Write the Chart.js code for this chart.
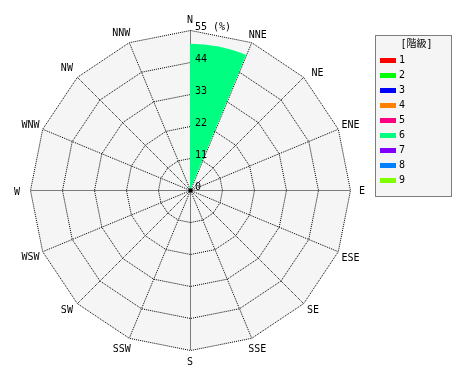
<!DOCTYPE html>
<html>
<head>
<meta charset="utf-8">
<script src="https://cdn.jsdelivr.net/npm/chart.js@4"></script>
<style>
  html, body { margin: 0; padding: 0; background: #fff; }
  #wrap { width: 470px; height: 380px; }
</style>
</head>
<body>
<div id="wrap"><canvas id="rose" width="470" height="380"></canvas></div>
<script>
// wind directions (clockwise from north)
const directions = ['N', 'NNE', 'NE', 'ENE', 'E', 'ESE', 'SE', 'SSE',
                    'S', 'SSW', 'SW', 'WSW', 'W', 'WNW', 'NW', 'NNW'];

// frequency (%) per class and direction
const freq1 = [0, 0, 0, 0, 0, 0, 0, 0, 0, 0, 0, 0, 0, 0, 0, 0];
const freq2 = [0, 0, 0, 0, 0, 0, 0, 0, 0, 0, 0, 0, 0, 0, 0, 0];
const freq3 = [0, 0, 0, 0, 0, 0, 0, 0, 0, 0, 0, 0, 0, 0, 0, 0];
const freq4 = [0, 0, 0, 0, 0, 0, 0, 0, 0, 0, 0, 0, 0, 0, 0, 0];
const freq5 = [0, 0, 0, 0, 0, 0, 0, 0, 0, 0, 0, 0, 0, 0, 0, 0];
const freq6 = [50.3, 0, 0, 0, 0, 0, 0, 0, 0, 0, 0, 0, 0, 0, 0, 0];
const freq7 = [0, 0, 0, 0, 0, 0, 0, 0, 0, 0, 0, 0, 0, 0, 0, 0];
const freq8 = [0, 0, 0, 0, 0, 0, 0, 0, 0, 0, 0, 0, 0, 0, 0, 0];
const freq9 = [0, 0, 0, 0, 0, 0, 0, 0, 0, 0, 0, 0, 0, 0, 0, 0];

const classNames = ['1', '2', '3', '4', '5', '6', '7', '8', '9'];
const classColors = ['#ff0000', '#00ff00', '#0000ff', '#ff8000', '#ff0080',
                     '#00ff80', '#8000ff', '#0080ff', '#80ff00'];

const tickValues = [0, 11, 22, 33, 44, 55];
const unitLabel = '(%)';
const legendTitle = '[階級]';

const FONT = '10px "DejaVu Sans Mono", "Noto Sans CJK JP", monospace';

// small nudges for the direction names, same order as directions
const labelNudge = [[0, 2], [2, 4], [6, 5], [1.5, 1], [0, 1], [1.5, 2.5], [1.5, -1.5], [1.5, 0],
                    [0, 0], [-2.5, 0], [-1.5, -1.5], [-0.5, 2], [-1, 2], [-0.5, 1], [-1.5, 0], [-3, 2]];

// stack the classes: each class is drawn out to the running total,
// earlier classes sit on top (Chart.js draws dataset 0 last)
const allFreq = [freq1, freq2, freq3, freq4, freq5, freq6, freq7, freq8, freq9];
const running = directions.map(() => 0);
const datasets = allFreq.map((f, k) => {
    const outer = f.map((v, i) => {
        running[i] += v;
        return v > 0 ? running[i] : 0;
    });
    return {
        label: classNames[k],
        data: outer,
        backgroundColor: classColors[k],
        borderWidth: 0
    };
});

const roseText = {
    id: 'roseText',
    // shift the grid half a pixel so the dotted lines land on whole pixels
    beforeDraw(chart) {
        chart.ctx.save();
        chart.ctx.translate(0.5, 0.5);
    },
    beforeDatasetsDraw(chart) {
        chart.ctx.restore();
    },
    afterDatasetsDraw(chart) {
        const ctx = chart.ctx;
        const r = chart.scales.r;
        ctx.save();
        ctx.font = FONT;
        ctx.fillStyle = '#000';

        // direction names
        ctx.textAlign = 'center';
        ctx.textBaseline = 'middle';
        directions.forEach((d, i) => {
            const p = r.getPointPosition(i, r.drawingArea + 12);
            ctx.fillText(d, p.x + labelNudge[i][0], p.y + labelNudge[i][1]);
        });

        // ring values along the north axis
        ctx.textAlign = 'left';
        tickValues.forEach((v, i) => {
            const y = r.yCenter - r.getDistanceFromCenterForValue(v) - 3;
            const txt = i === tickValues.length - 1 ? v + ' ' + unitLabel : String(v);
            ctx.fillText(txt, r.xCenter + 5, y);
        });

        // centre dot
        ctx.beginPath();
        ctx.arc(r.xCenter + 0.5, r.yCenter + 0.5, 2, 0, Math.PI * 2);
        ctx.fill();
        ctx.restore();
    },
    afterDraw(chart) {
        // class legend box
        const ctx = chart.ctx;
        const x0 = 375.5, y0 = 35.5, w = 76, h = 161;
        ctx.save();
        ctx.fillStyle = '#f5f5f5';
        ctx.fillRect(x0, y0, w, h);
        ctx.strokeStyle = '#000';
        ctx.lineWidth = 1;
        ctx.setLineDash([1, 1]);
        ctx.strokeRect(x0, y0, w, h);
        ctx.setLineDash([]);

        ctx.font = FONT;
        ctx.fillStyle = '#000';
        ctx.textAlign = 'center';
        ctx.textBaseline = 'middle';
        ctx.fillText(legendTitle, x0 + w / 2 + 3, 44);

        ctx.textAlign = 'left';
        classNames.forEach((name, i) => {
            const y = 60.5 + i * 15;
            ctx.fillStyle = classColors[i];
            ctx.fillRect(380, y - 2.5, 16, 5);
            ctx.fillStyle = '#000';
            ctx.fillText(name, 399, y);
        });
        ctx.restore();
    }
};

new Chart(document.getElementById('rose'), {
    type: 'polarArea',
    data: { labels: directions, datasets: datasets },
    options: {
        responsive: false,
        animation: false,
        layout: { padding: { left: 30, right: 120, top: 30, bottom: 30 } },
        plugins: {
            legend: { display: false },
            tooltip: { enabled: false }
        },
        scales: {
            r: {
                min: 0,
                max: 55,
                startAngle: 0,
                backgroundColor: '#f5f5f5',
                ticks: { display: false, stepSize: 11 },
                pointLabels: { display: false },
                grid: { circular: false, color: '#000', lineWidth: 1 },
                border: { dash: [1, 1] },
                angleLines: { display: true, color: '#000', lineWidth: 1, borderDash: [1, 1] }
            }
        }
    },
    plugins: [roseText]
});
</script>
</body>
</html>
